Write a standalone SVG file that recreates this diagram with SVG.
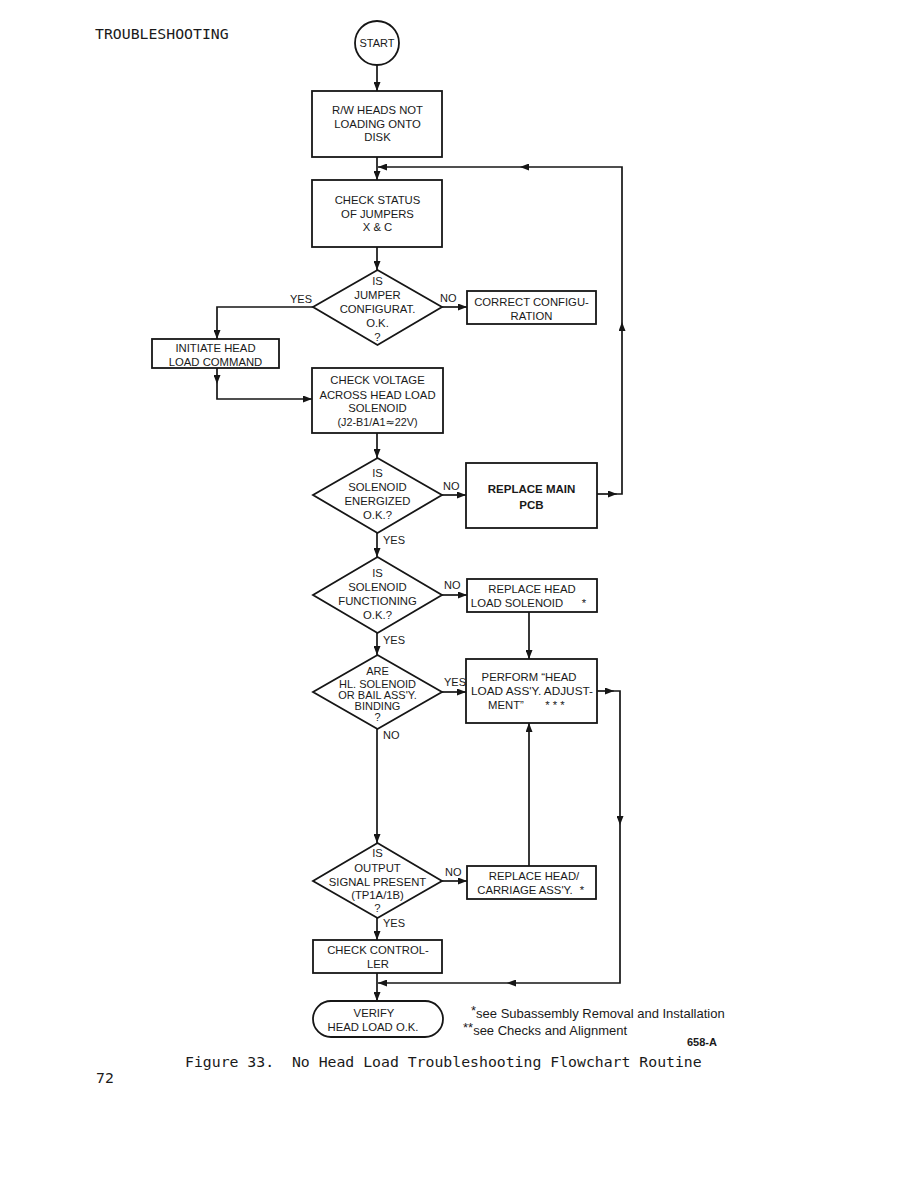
<svg xmlns="http://www.w3.org/2000/svg" width="918" height="1188" viewBox="0 0 918 1188">
<style>
.sh{fill:#fff;stroke:#161616;stroke-width:1.8}
.ln{fill:none;stroke:#161616;stroke-width:1.7}
.t{font-family:"Liberation Sans",Arial,sans-serif;font-size:11.3px;text-anchor:middle;fill:#1a1a1a}
.s{font-size:10.8px}
.lbl{font-family:"Liberation Sans",Arial,sans-serif;font-size:11px;fill:#1a1a1a}
.b{font-weight:bold}
.mono{font-family:"DejaVu Sans Mono","Liberation Mono",monospace;font-size:14.8px;fill:#1a1a1a}
.fn{font-family:"Liberation Sans",Arial,sans-serif;font-size:13px;fill:#1a1a1a}
</style>
<defs>
<marker id="ah" viewBox="0 0 9 7" refX="9" refY="3.5" markerWidth="9" markerHeight="7" markerUnits="userSpaceOnUse" orient="auto">
<path d="M0,0 L9,3.5 L0,7 z" fill="#161616"/>
</marker>
</defs>
<rect width="918" height="1188" fill="#fff"/>
<text class="mono" x="95" y="39">TROUBLESHOOTING</text>

<g id="connectors">
<path class="ln" d="M377,65 V91" marker-end="url(#ah)"/>
<path class="ln" d="M377,157 V180" marker-end="url(#ah)"/>
<path class="ln" d="M597,494 H617" marker-end="url(#ah)"/>
<path class="ln" d="M617,494 H622 V322" marker-end="url(#ah)"/>
<path class="ln" d="M622,322 V167 H520" marker-end="url(#ah)"/>
<path class="ln" d="M520,167 H378" marker-end="url(#ah)"/>
<path class="ln" d="M377,247 V270" marker-end="url(#ah)"/>
<path class="ln" d="M442,307 H467" marker-end="url(#ah)"/>
<path class="ln" d="M313,307 H217 V339" marker-end="url(#ah)"/>
<path class="ln" d="M217,368 V384" marker-end="url(#ah)"/>
<path class="ln" d="M217,384 V399 H312" marker-end="url(#ah)"/>
<path class="ln" d="M377,433 V458" marker-end="url(#ah)"/>
<path class="ln" d="M442,495 H466" marker-end="url(#ah)"/>
<path class="ln" d="M377,533 V557" marker-end="url(#ah)"/>
<path class="ln" d="M442,595 H467" marker-end="url(#ah)"/>
<path class="ln" d="M529,612 V659" marker-end="url(#ah)"/>
<path class="ln" d="M377,633 V655" marker-end="url(#ah)"/>
<path class="ln" d="M442,692 H466" marker-end="url(#ah)"/>
<path class="ln" d="M597,691 H614" marker-end="url(#ah)"/>
<path class="ln" d="M614,691 H620 V825" marker-end="url(#ah)"/>
<path class="ln" d="M620,825 V983 H507" marker-end="url(#ah)"/>
<path class="ln" d="M507,983 H378" marker-end="url(#ah)"/>
<path class="ln" d="M377,729 V843" marker-end="url(#ah)"/>
<path class="ln" d="M442,881 H467" marker-end="url(#ah)"/>
<path class="ln" d="M529,866 V723" marker-end="url(#ah)"/>
<path class="ln" d="M377,918 V940" marker-end="url(#ah)"/>
<path class="ln" d="M377,973 V1001" marker-end="url(#ah)"/>
<text class="lbl" x="290" y="303">YES</text>
<text class="lbl" x="440" y="302">NO</text>
<text class="lbl" x="443" y="490">NO</text>
<text class="lbl" x="383" y="544">YES</text>
<text class="lbl" x="444" y="589">NO</text>
<text class="lbl" x="383" y="644">YES</text>
<text class="lbl" x="444" y="685.5">YES</text>
<text class="lbl" x="383" y="739">NO</text>
<text class="lbl" x="445" y="876">NO</text>
<text class="lbl" x="383" y="927">YES</text>
</g>

<g id="start">
<circle class="sh" cx="377" cy="43" r="22"/>
<text class="t" x="377" y="47" style="font-size:11px">START</text>
</g>

<g id="not-loading">
<rect class="sh" x="312" y="91" width="130" height="66"/>
<text class="t" x="377.5" y="114">R/W HEADS NOT</text>
<text class="t" x="377.5" y="127.5">LOADING ONTO</text>
<text class="t" x="377.5" y="141">DISK</text>
</g>

<g id="check-jumpers">
<rect class="sh" x="312" y="180" width="130" height="67"/>
<text class="t" x="377.5" y="204">CHECK STATUS</text>
<text class="t" x="377.5" y="217.5">OF JUMPERS</text>
<text class="t" x="377.5" y="231">X &amp; C</text>
</g>

<g id="jumper-ok">
<polygon class="sh" points="377.5,270 442,307 377.5,345 313,307"/>
<text class="t" x="377.5" y="285">IS</text>
<text class="t" x="377.5" y="299">JUMPER</text>
<text class="t" x="377.5" y="313">CONFIGURAT.</text>
<text class="t" x="377.5" y="327">O.K.</text>
<text class="t" x="377.5" y="341">?</text>
</g>

<g id="correct-config">
<rect class="sh" x="467" y="291" width="129" height="33"/>
<text class="t" x="531.5" y="305.5">CORRECT CONFIGU-</text>
<text class="t" x="531.5" y="319.5">RATION</text>
</g>

<g id="initiate">
<rect class="sh" x="152" y="339" width="127" height="29"/>
<text class="t" x="215.5" y="352">INITIATE HEAD</text>
<text class="t" x="215.5" y="365.5">LOAD COMMAND</text>
</g>

<g id="check-voltage">
<rect class="sh" x="312" y="368" width="131" height="65"/>
<text class="t" x="377.5" y="384">CHECK VOLTAGE</text>
<text class="t" x="377.5" y="398.5">ACROSS HEAD LOAD</text>
<text class="t" x="377.5" y="412">SOLENOID</text>
<text class="t s" x="377.5" y="426">(J2-B1/A1<tspan style="font-family:'DejaVu Sans',sans-serif;font-size:11px">≈</tspan>22V)</text>
</g>

<g id="energized">
<polygon class="sh" points="377.5,458 442,495 377.5,533 313,495"/>
<text class="t" x="377.5" y="477">IS</text>
<text class="t" x="377.5" y="491">SOLENOID</text>
<text class="t" x="377.5" y="505">ENERGIZED</text>
<text class="t" x="377.5" y="519">O.K.?</text>
</g>

<g id="replace-pcb">
<rect class="sh" x="466" y="463" width="131" height="65"/>
<text class="t b" x="531.5" y="492.5" style="font-size:11.5px">REPLACE MAIN</text>
<text class="t b" x="531.5" y="509" style="font-size:11.5px">PCB</text>
</g>

<g id="functioning">
<polygon class="sh" points="377.5,557 442,595 377.5,633 313,595"/>
<text class="t" x="377.5" y="577">IS</text>
<text class="t" x="377.5" y="591">SOLENOID</text>
<text class="t" x="377.5" y="605">FUNCTIONING</text>
<text class="t" x="377.5" y="619">O.K.?</text>
</g>

<g id="replace-solenoid">
<rect class="sh" x="467" y="579" width="130" height="33"/>
<text class="t" x="532" y="592.5">REPLACE HEAD</text>
<text class="t" x="517" y="606.5">LOAD SOLENOID</text>
<text class="t" x="584" y="606.5">*</text>
</g>

<g id="binding">
<polygon class="sh" points="377.5,655 442,692 377.5,729 313,692"/>
<text class="t" x="377.5" y="675" style="font-size:11px">ARE</text>
<text class="t" x="377.5" y="687.5" style="font-size:11px">HL. SOLENOID</text>
<text class="t" x="377.5" y="698.5" style="font-size:11px">OR BAIL ASS'Y.</text>
<text class="t" x="377.5" y="710" style="font-size:11px">BINDING</text>
<text class="t" x="377.5" y="720.5" style="font-size:11px">?</text>
</g>

<g id="perform-adjust">
<rect class="sh" x="466" y="659" width="131" height="64"/>
<text class="t" x="529" y="681">PERFORM “HEAD</text>
<text class="t" x="532" y="695" textLength="122" lengthAdjust="spacingAndGlyphs">LOAD ASS'Y. ADJUST-</text>
<text class="t" x="506" y="708.5">MENT”</text>
<text class="t" x="555" y="708.5">* * *</text>
</g>

<g id="output-signal">
<polygon class="sh" points="377.5,843 442,881 377.5,918 313,881"/>
<text class="t" x="377.5" y="857">IS</text>
<text class="t" x="377.5" y="871.5">OUTPUT</text>
<text class="t" x="377.5" y="885.5">SIGNAL PRESENT</text>
<text class="t" x="377.5" y="898.5">(TP1A/1B)</text>
<text class="t" x="377.5" y="912">?</text>
</g>

<g id="replace-carriage">
<rect class="sh" x="467" y="866" width="129" height="33"/>
<text class="t" x="534" y="879.5">REPLACE HEAD/</text>
<text class="t" x="525" y="893.5">CARRIAGE ASS'Y.</text>
<text class="t" x="582" y="893.5">*</text>
</g>

<g id="check-controller">
<rect class="sh" x="313" y="940" width="129" height="33"/>
<text class="t" x="378" y="954">CHECK CONTROL-</text>
<text class="t" x="378" y="967.5">LER</text>
</g>

<g id="verify">
<rect class="sh" x="313" y="1001" width="130" height="36" rx="18" ry="18"/>
<text class="t" x="374" y="1016.5">VERIFY</text>
<text class="t" x="373" y="1030.5">HEAD LOAD O.K.</text>
</g>

<g id="notes">
<text class="fn" x="471" y="1017.5"><tspan dy="-3">*</tspan><tspan dy="3">see Subassembly Removal and Installation</tspan></text>
<text class="fn" x="463" y="1035"><tspan dy="-3">**</tspan><tspan dy="3">see Checks and Alignment</tspan></text>
<text class="lbl b" x="687" y="1046">658-A</text>
</g>

<text class="mono" x="185" y="1067" xml:space="preserve">Figure 33.  No Head Load Troubleshooting Flowchart Routine</text>
<text class="mono" x="96" y="1083">72</text>
</svg>
